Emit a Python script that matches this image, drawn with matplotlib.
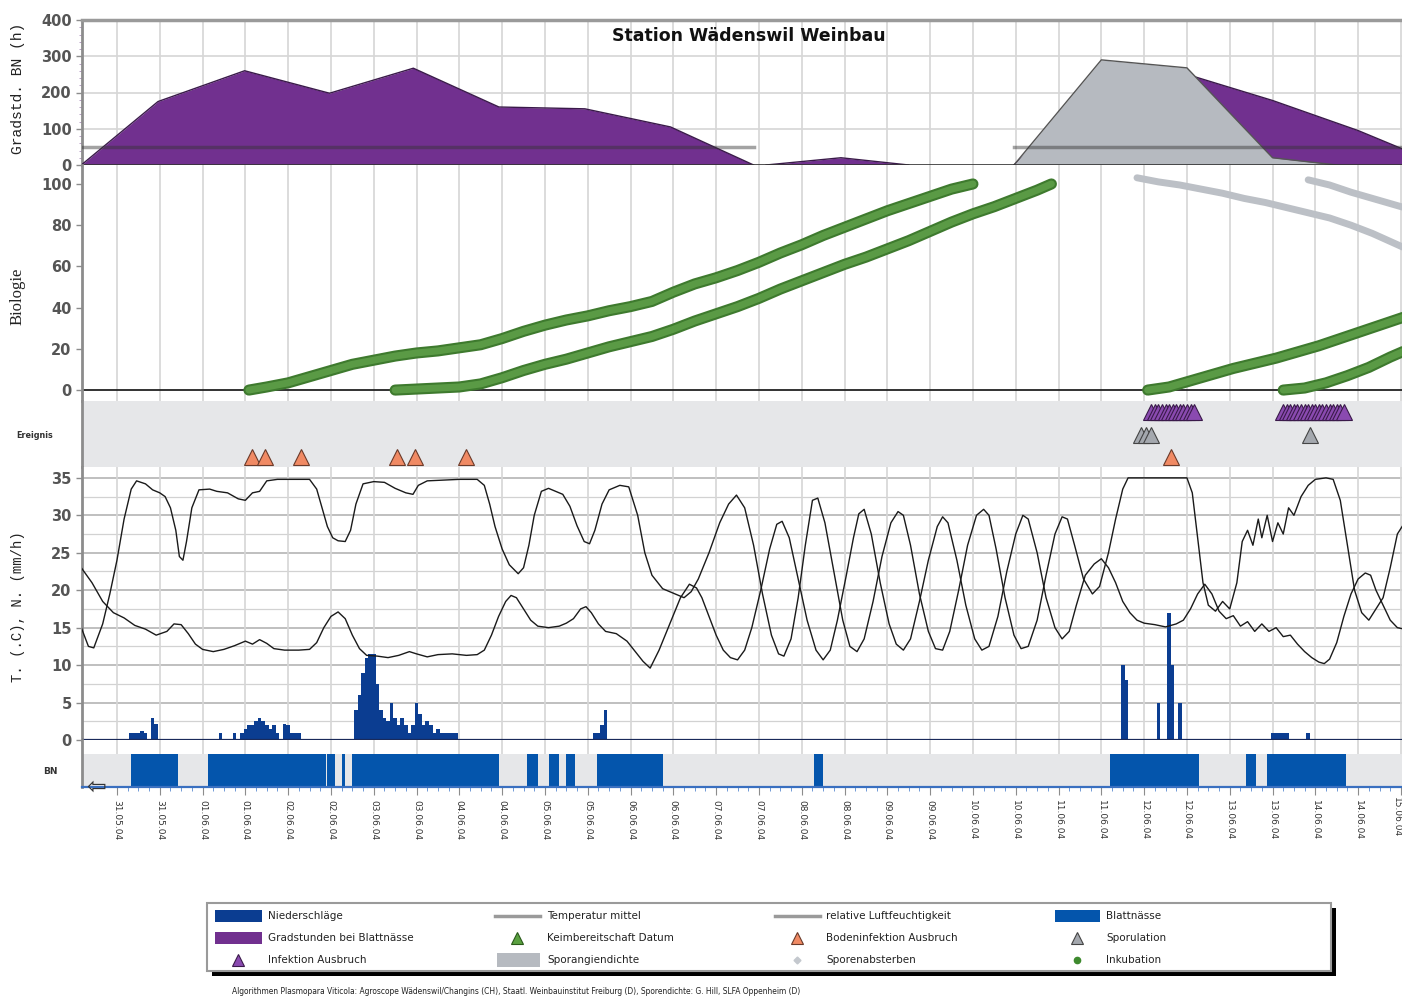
import matplotlib
matplotlib.use("Agg")
import matplotlib.pyplot as plt
from matplotlib.patches import Rectangle
from matplotlib import font_manager

# ---------------- data ----------------
days = ["31.05.04", "01.06.04", "02.06.04", "03.06.04", "04.06.04", "05.06.04",
        "06.06.04", "07.06.04", "08.06.04", "09.06.04", "10.06.04", "11.06.04",
        "12.06.04", "13.06.04", "14.06.04", "15.06.04"]
tick_hours = list(range(0, 361, 12))          # hours since 31.05.04 00:00
tick_labels = [d for d in days[:-1] for _ in range(2)] + [days[-1]]

# Gradstunden bei Blattnaesse (h)
gs1_t = [-10, 11.5, 35.8, 59.6, 83.1, 107.1, 131.2, 155.2, 178.5]
gs1_v = [0, 175, 260, 198, 267, 160, 155, 105, 0]
gs2_t = [182, 203, 222]
gs2_v = [0, 20, 0]
gs3_t = [251.5, 276, 300, 324, 348, 361]
gs3_v = [0, 230, 250, 178, 95, 42]
# Sporangiendichte
spd_t = [251.5, 276, 300, 324, 342]
spd_v = [0, 290, 268, 20, 0]
thr_level = 50

# Biologie: Inkubation (%) and Sporenabsterben
inc1_t = [37, 42, 48, 54, 60, 66, 72, 78, 84, 90, 96, 102, 108, 114, 120, 126, 132, 138,
          144, 150, 156, 162, 168, 174, 180, 186, 192, 198, 204, 210, 216, 222, 228, 234, 240]
inc1_v = [0, 1.5, 3.5, 6.5, 9.5, 12.5, 14.5, 16.5, 18, 19, 20.5, 22, 25, 28.5, 31.5, 34, 36,
          38.5, 40.5, 43, 47.5, 51.5, 54.5, 58, 62, 66.5, 70.5, 75, 79, 83, 87, 90.5, 94, 97.5, 100]
inc2_t = [78, 84, 90, 96, 102, 108, 114, 120, 126, 132, 138, 144, 150, 156, 162, 168, 174,
          180, 186, 192, 198, 204, 210, 216, 222, 228, 234, 240, 246, 252, 258, 262]
inc2_v = [0, 0.5, 1, 1.5, 3, 6, 9.5, 12.5, 15, 18, 21, 23.5, 26, 29.5, 33.5, 37, 40.5,
          44.5, 49, 53, 57, 61, 64.5, 68.5, 72.5, 77, 81.5, 85.5, 89, 93, 97, 100]
inc3_t = [289, 295, 301, 307, 313, 319, 325, 331, 337, 343, 349, 355, 361]
inc3_v = [0, 1.5, 4.5, 7.5, 10.5, 13, 15.5, 18.5, 21.5, 25, 28.5, 32, 35.5]
inc4_t = [327, 333, 339, 345, 351, 357, 361]
inc4_v = [0, 1, 3.5, 7, 11, 16, 19]
die1_t = [286, 292, 298, 304, 310, 316, 322, 328, 334, 340, 346, 352, 361]
die1_v = [103, 101, 99.5, 97.5, 95.5, 93, 91, 88.5, 86, 83.5, 80, 76, 69]
die2_t = [334, 340, 346, 352, 361]
die2_v = [102, 99.5, 96, 93, 88.5]

# Ereignisse (hours)
boden_t = [38, 41.5, 51.5, 78.5, 83.5, 98, 295.5]
sporul_t = [287, 288.5, 290, 334.5]
infekt_t = [290, 291, 292, 293, 294, 295, 296, 297, 298, 299, 300, 301, 302,
            327, 328, 329, 330, 331, 332, 333, 334, 335, 336, 337, 338, 339, 340, 341, 342, 343, 344]

# Wetter: relative Luftfeuchtigkeit (scaled) and Temperatur
hum = [(-10, 15.0), (-8, 12.5), (-6.5, 12.3), (-4, 15.5), (-2, 19.5), (0, 24.0), (2, 29.5),
       (4, 33.5), (5.5, 34.6), (8, 34.2), (10, 33.4), (12, 33.0), (13.5, 32.5), (15, 31.0),
       (16.5, 28.0), (17.5, 24.5), (18.5, 24.0), (19.5, 26.5), (21, 31.0), (23, 33.4),
       (26, 33.5), (28, 33.2), (31, 33.0), (34, 32.2), (36, 32.0), (38, 33.0), (40, 33.2),
       (42, 34.6), (45, 34.8), (54, 34.8), (56, 33.5), (57.5, 31.0), (59, 28.5), (60.5, 27.0),
       (62, 26.6), (64, 26.5), (65.5, 28.0), (67, 31.5), (69, 34.2), (72, 34.5), (75, 34.4),
       (78, 33.6), (81, 33.0), (83, 32.8), (84.5, 34.0), (87, 34.6), (96, 34.8), (101, 34.8),
       (103, 34.0), (104.5, 31.5), (106, 28.5), (108, 25.5), (110, 23.4), (112.5, 22.2),
       (114, 23.0), (115.5, 26.0), (117, 30.0), (119, 33.2), (121, 33.6), (123, 33.2),
       (125, 32.8), (127, 31.2), (129, 28.6), (131, 26.5), (132.5, 26.2), (134, 28.0),
       (136, 31.5), (138, 33.4), (141, 34.0), (143.5, 33.8), (146, 30.0), (148, 25.0),
       (150, 22.0), (153, 20.2), (156, 19.6), (159, 19.0), (161, 19.8), (163, 21.5),
       (166, 25.0), (169, 29.0), (171.5, 31.5), (173.7, 32.7), (176, 31.0), (178.5, 26.0),
       (181, 19.5), (183.5, 14.0), (185.5, 11.5), (187, 11.2), (189, 13.5), (191, 19.0),
       (193, 26.0), (195, 32.0), (196.5, 32.3), (198.5, 29.0), (201, 22.5), (203.5, 16.0),
       (205.5, 12.5), (207.5, 11.8), (209.5, 13.5), (212, 18.5), (214.5, 24.5), (217, 29.0),
       (219, 30.5), (220.5, 30.0), (222.5, 26.0), (225, 19.5), (227.5, 14.5), (229.5, 12.2),
       (231.5, 12.0), (233.5, 14.5), (236, 20.0), (238.5, 26.0), (241, 30.0), (243, 30.8),
       (244.5, 30.0), (246.5, 25.5), (249, 19.0), (251.5, 14.0), (253.5, 12.2), (255.5, 12.5),
       (258, 16.0), (260.5, 22.0), (263, 27.5), (265, 29.8), (266.5, 29.5), (268.5, 26.0),
       (271, 21.5), (273.5, 19.5), (275.5, 20.5), (278, 25.0), (280, 29.5), (282, 33.5),
       (283.5, 35.0), (300, 35.0), (301.5, 33.0), (303, 27.0), (304.5, 21.0), (306, 18.0),
       (308, 17.2), (310, 18.5), (312, 17.5), (314, 21.0), (315.5, 26.5), (317, 28.0),
       (318.5, 26.0), (320, 29.5), (321, 27.0), (322.5, 30.0), (324, 26.5), (325.5, 29.0),
       (327, 27.5), (328.5, 31.0), (330, 30.0), (332, 32.5), (334, 34.0), (336, 34.8),
       (339, 35.0), (341, 34.8), (343, 32.0), (345, 26.0), (347, 20.0), (349, 17.0),
       (351, 16.0), (353, 17.5), (355, 19.0), (357, 23.0), (359, 27.5), (361, 29.0)]
temp = [(-10, 23.0), (-7, 21.0), (-4, 18.5), (-1, 17.0), (2, 16.3), (5, 15.3), (8, 14.8),
        (11, 14.0), (14, 14.5), (16, 15.5), (18, 15.4), (20, 14.2), (22, 12.8), (24, 12.1),
        (27, 11.8), (30, 12.1), (33, 12.6), (36, 13.2), (38, 12.8), (40, 13.4), (42, 12.9),
        (44, 12.2), (47, 12.0), (51, 12.0), (54, 12.1), (56, 13.0), (58, 15.0), (60, 16.5),
        (62, 17.1), (64, 16.2), (66, 14.0), (68, 12.2), (70, 11.3), (73, 11.2), (76, 11.0),
        (79, 11.3), (82, 11.8), (84, 11.5), (87, 11.1), (90, 11.4), (94, 11.5), (98, 11.3),
        (101, 11.4), (103, 12.0), (105, 14.0), (107, 16.5), (109, 18.5), (110.5, 19.3),
        (112, 19.0), (114, 17.5), (116, 16.0), (118, 15.2), (121, 15.0), (124, 15.2),
        (126, 15.6), (128, 16.2), (130, 17.5), (131.5, 17.8), (133, 17.0), (135, 15.5),
        (137, 14.5), (140, 14.2), (143, 13.2), (145, 12.0), (147.5, 10.5), (149.5, 9.6),
        (152, 12.0), (155, 15.5), (158, 19.0), (160.5, 20.8), (162.5, 20.3), (164, 19.0),
        (166, 16.5), (168, 14.0), (170, 12.0), (172, 11.0), (174, 10.7), (176, 12.0),
        (178, 15.0), (180.5, 20.0), (183, 25.5), (185, 28.8), (186.5, 29.2), (188.5, 27.0),
        (191, 21.5), (193.5, 16.0), (196, 12.0), (198, 10.7), (200, 12.0), (202, 16.0),
        (204.5, 22.0), (206.5, 27.0), (208, 30.2), (209.5, 30.8), (211.5, 27.5), (214, 21.0),
        (216.5, 15.5), (218.5, 12.8), (220.5, 12.0), (222.5, 13.5), (225, 18.5), (227.5, 24.0),
        (230, 28.5), (231.5, 29.8), (233, 29.0), (235.5, 24.0), (238, 18.0), (240.5, 13.5),
        (242.5, 12.0), (244.5, 12.5), (247, 16.5), (249.5, 22.5), (252, 27.5), (254, 30.0),
        (255.5, 29.5), (258, 25.0), (260.5, 19.0), (263, 15.0), (265, 13.5), (267, 14.5),
        (269, 18.0), (271.5, 22.0), (274, 23.5), (276, 24.2), (278, 23.0), (280, 21.0),
        (282, 18.5), (284, 17.0), (286, 16.0), (288, 15.6), (291, 15.4), (294, 15.1),
        (297, 15.5), (299, 16.0), (301, 17.5), (303, 19.5), (305, 20.8), (307, 19.5),
        (309, 17.2), (311, 16.2), (313, 16.6), (315, 15.2), (317, 15.8), (319, 14.5),
        (321, 15.5), (323, 14.5), (325, 15.0), (327, 13.8), (329, 14.0), (331, 12.8),
        (333, 11.8), (335, 11.0), (337, 10.4), (338.5, 10.2), (340, 10.8), (342, 13.0),
        (344, 16.5), (346, 19.5), (348, 21.5), (350, 22.3), (351.5, 22.0), (353, 20.0),
        (355, 18.0), (357, 16.0), (359, 15.0), (361, 14.8)]
hum_t, hum_v = zip(*hum)
temp_t, temp_v = zip(*temp)

# Niederschlag (mm/h)
rain_t = [4, 5, 6, 7, 8, 10, 11,
          29, 33, 35, 36, 37, 38, 39, 40, 41, 42, 43, 44, 45, 47, 48, 49, 50, 51,
          67, 68, 69, 70, 71, 72, 73, 74, 75, 76, 77, 78, 79, 80, 81,
          82, 83, 84, 85, 86, 87, 88, 89, 90, 91, 92, 93, 94, 95,
          134, 135, 136, 137, 282, 283, 292, 295, 296, 298,
          324, 325, 326, 327, 328, 334]
rain_v = [1, 1, 1, 1.2, 1, 3, 2.2,
          1, 1, 1, 1.5, 2, 2, 2.5, 3, 2.5, 2, 1.5, 2, 1, 2.2, 2, 1, 1, 1,
          4, 6, 9, 11, 11.5, 11.5, 7.5, 4, 3, 2.5, 5, 3, 2, 3, 2,
          1, 2, 5, 3.5, 2, 2.5, 2, 1, 1.5, 1, 1, 1, 1, 1,
          1, 1, 2, 4, 10, 8, 5, 17, 10, 5,
          1, 1, 1, 1, 1, 1]

# Blattnaesse intervals (hours)
bn_start = [4, 25.5, 59, 63, 66, 115, 121, 126, 134.5, 195.5, 278.5, 316.5, 322.5]
bn_end = [17, 58.5, 61, 64, 107, 118, 124, 128.5, 153, 198, 303.5, 319.5, 344.5]

# ---------------- style ----------------
PURPLE = "#71308f"
NAVY = "#0b3d91"
BLUE = "#0455ac"
SPGRAY = "#b6bac0"
EVBG = "#e6e7e9"
ORANGE = "#f08a64"
GRID = "#d6d6d6"

names = {f.name for f in font_manager.fontManager.ttflist}
title_family = "Liberation Sans Narrow" if "Liberation Sans Narrow" in names else "DejaVu Sans"
title_size = 14 if title_family == "Liberation Sans Narrow" else 12.5

W, H = 1402, 998
fig = plt.figure(figsize=(W / 100, H / 100), dpi=100)
XMIN, XMAX = -9.8, 360.3


def add_ax(top, bottom):
    return fig.add_axes([82 / W, 1 - bottom / H, (W - 82) / W, (bottom - top) / H])


def base(ax, grid=True):
    ax.set_xlim(XMIN, XMAX)
    for s in ("top", "right", "bottom"):
        ax.spines[s].set_visible(False)
    ax.spines["left"].set_color("#8c8c8c")
    ax.spines["left"].set_linewidth(2)
    ax.set_xticks(tick_hours)
    ax.tick_params(axis="x", bottom=False, labelbottom=False)
    ax.tick_params(axis="y", colors="#8c8c8c", labelcolor="#555555", labelsize=10.5, length=4, width=1)
    for lab in ax.get_yticklabels():
        lab.set_fontweight("bold")
    if grid:
        ax.grid(axis="x", color=GRID, lw=1.2, zorder=0)
    ax.set_axisbelow(True)


ax_gs = add_ax(20, 165)
ax_bio = add_ax(165, 401)
ax_ev = add_ax(401, 467)
ax_w = add_ax(467, 740)
ax_bn = add_ax(740, 787)

# ---- top panel: Gradstunden ----
ax_gs.set_ylim(0, 400)
ax_gs.set_yticks([0, 100, 200, 300, 400])
ax_gs.set_yticks(range(0, 401, 20), minor=True)
ax_gs.tick_params(axis="y", which="minor", length=2, colors="#b090c0")
base(ax_gs)
ax_gs.spines["top"].set_visible(True)
ax_gs.spines["top"].set_color("#9a9a9a")
ax_gs.spines["top"].set_linewidth(2.5)
for yv in (100, 200, 300):
    ax_gs.axhline(yv, color=GRID, lw=1.2, zorder=0)
for t_, v_ in ((gs1_t, gs1_v), (gs2_t, gs2_v), (gs3_t, gs3_v)):
    ax_gs.fill_between(t_, v_, 0, color=PURPLE, zorder=2, lw=0)
    ax_gs.plot(t_, v_, color="#3a1a4a", lw=1, zorder=3)
ax_gs.fill_between(spd_t, spd_v, 0, color=SPGRAY, zorder=4, lw=0)
ax_gs.plot(spd_t, spd_v, color="#555555", lw=1, zorder=5)
ax_gs.plot([gs1_t[0], gs1_t[-1]], [thr_level, thr_level], color="#333333", alpha=0.45, lw=2.5, zorder=6)
ax_gs.plot([gs3_t[0], XMAX], [thr_level, thr_level], color="#333333", alpha=0.45, lw=2.5, zorder=6)
ax_gs.axhline(0, color="#333333", lw=1.2, zorder=7)
ax_gs.text(0.505, 0.89, "Station Wädenswil Weinbau", transform=ax_gs.transAxes,
           ha="center", va="center", fontsize=title_size, fontweight="bold",
           family=title_family, color="#111111", zorder=8)

# ---- biology panel ----
ax_bio.set_ylim(-5.3, 109.2)
ax_bio.set_yticks([0, 20, 40, 60, 80, 100])
base(ax_bio)
ax_bio.axhline(0, color="#222222", lw=1.3, zorder=2)
for t_, v_ in ((die1_t, die1_v), (die2_t, die2_v)):
    ax_bio.plot(t_, v_, color="#bcc0c6", lw=5, solid_capstyle="round", zorder=3)
for t_, v_ in ((inc1_t, inc1_v), (inc2_t, inc2_v), (inc3_t, inc3_v), (inc4_t, inc4_v)):
    ax_bio.plot(t_, v_, color="#3e7a2e", lw=8, solid_capstyle="round", zorder=4)
    ax_bio.plot(t_, v_, color="#5a9a45", lw=5, solid_capstyle="round", zorder=5)

# ---- Ereignis panel ----
ax_ev.set_facecolor(EVBG)
ax_ev.set_ylim(0, 3)
base(ax_ev, grid=False)
ax_ev.set_yticks([])
ax_ev.plot(infekt_t, [2.5] * len(infekt_t), ls="none", marker="^", ms=11,
           mfc="#8a4ab0", mec="#3a1a4a", mew=0.8, zorder=3)
ax_ev.plot(sporul_t, [1.45] * len(sporul_t), ls="none", marker="^", ms=11,
           mfc="#a4a8ae", mec="#444444", mew=0.8, zorder=3)
ax_ev.plot(boden_t, [0.45] * len(boden_t), ls="none", marker="^", ms=11,
           mfc=ORANGE, mec="#6a3a2a", mew=0.8, zorder=3)

# ---- weather panel ----
ax_w.set_ylim(0, 36.45)
ax_w.set_yticks(range(0, 36, 5))
base(ax_w)
for yv in range(0, 36, 5):
    ax_w.axhline(yv, color="#b4b4b4", lw=1.2, zorder=0)
for yv in [2.5 + 5 * k for k in range(7)]:
    ax_w.axhline(yv, color="#d2d2d2", lw=0.9, zorder=0)
ax_w.bar(rain_t, rain_v, width=1.0, color=NAVY, zorder=2, lw=0)
ax_w.plot(hum_t, hum_v, color="#1a1a1a", lw=1.0, zorder=3)
ax_w.plot(temp_t, temp_v, color="#1a1a1a", lw=1.0, zorder=3)
ax_w.axhline(0, color="#1a2a5a", lw=1.6, zorder=4)

# ---- BN panel ----
ax_bn.set_ylim(0, 1)
base(ax_bn)
ax_bn.set_yticks([])
ax_bn.add_patch(Rectangle((XMIN, 0), XMAX - XMIN, 0.70, facecolor=EVBG, lw=0, zorder=1))
ax_bn.bar(bn_start, 0.70, width=[e - s for s, e in zip(bn_start, bn_end)], align="edge",
          color=BLUE, lw=0, zorder=2)
ax_bn.spines["bottom"].set_visible(True)
ax_bn.spines["bottom"].set_color("#3a70c0")
ax_bn.spines["bottom"].set_linewidth(1.6)
ax_bn.set_xticks(tick_hours)
# last date label is drawn separately so it stays inside the figure edge
ax_bn.set_xticklabels(tick_labels[:-1] + [""], rotation=-90, fontsize=6.5, color="#333333")
ax_bn.set_xticks(range(0, 361, 3), minor=True)
ax_bn.tick_params(axis="x", which="major", bottom=True, labelbottom=True, length=6,
                  color="#8c8c8c", pad=3)
ax_bn.tick_params(axis="x", which="minor", bottom=True, length=3, color="#5a8ad0")

# ---------------- overlay: labels & legend ----------------
ov = fig.add_axes([0, 0, 1, 1], zorder=10)
ov.set_xlim(0, W)
ov.set_ylim(H, 0)
ov.axis("off")
ov.patch.set_alpha(0)

ov.text(1401, 797, tick_labels[-1], rotation=-90, ha="right", va="top",
        fontsize=6.5, color="#333333")

ov.text(18, 88, "Gradstd. BN (h)", rotation=90, ha="center", va="center",
        family="Liberation Mono", fontsize=10.5, color="#222222")
ov.text(18, 296, "Biologie", rotation=90, ha="center", va="center",
        family="Liberation Serif", fontsize=12, color="#222222")
ov.text(18, 607, "T. (.C), N. (mm/h)", rotation=90, ha="center", va="center",
        family="Liberation Mono", fontsize=10, color="#222222")
ov.text(35, 435, "Ereignis", ha="center", va="center", fontsize=6.5, fontweight="bold",
        color="#333333", fontstretch="condensed")
ov.text(50, 771, "BN", ha="center", va="center", fontsize=6.5, fontweight="bold", color="#333333")
ov.text(96, 787, "\u21e6", ha="center", va="center", fontsize=17, color="#333333")

# legend box with shadow
ov.add_patch(Rectangle((212, 908), 1124, 68, facecolor="black", lw=0))
ov.add_patch(Rectangle((207, 903), 1124, 68, facecolor="white", edgecolor="#9a9a9a", lw=1.5))

rows = [916, 938, 960]
fs = 7.5
# column 1
ov.add_patch(Rectangle((215, rows[0] - 6), 47, 12, facecolor=NAVY, lw=0))
ov.add_patch(Rectangle((215, rows[1] - 6), 47, 12, facecolor=PURPLE, lw=0))
ov.plot([238], [rows[2]], marker="^", ms=8, mfc="#8a4ab0", mec="#3a1a4a", mew=0.8)
for r, t in zip(rows, ["Niederschläge", "Gradstunden bei Blattnässe", "Infektion Ausbruch"]):
    ov.text(268, r, t, va="center", fontsize=fs, color="#222222")
# column 2
ov.plot([495, 540], [rows[0], rows[0]], color="#9a9a9a", lw=2.5)
ov.plot([517], [rows[1]], marker="^", ms=8, mfc="#5aa040", mec="#2a5a1a", mew=0.8)
ov.add_patch(Rectangle((497, rows[2] - 7), 43, 14, facecolor=SPGRAY, lw=0))
for r, t in zip(rows, ["Temperatur mittel", "Keimbereitschaft Datum", "Sporangiendichte"]):
    ov.text(547, r, t, va="center", fontsize=fs, color="#222222")
# column 3
ov.plot([775, 820], [rows[0], rows[0]], color="#9a9a9a", lw=2.5)
ov.plot([797], [rows[1]], marker="^", ms=8, mfc=ORANGE, mec="#6a3a2a", mew=0.8)
ov.plot([797], [rows[2]], marker="D", ms=3.5, mfc="#c4c8ce", mec="#c4c8ce")
for r, t in zip(rows, ["relative Luftfeuchtigkeit", "Bodeninfektion Ausbruch", "Sporenabsterben"]):
    ov.text(826, r, t, va="center", fontsize=fs, color="#222222")
# column 4
ov.add_patch(Rectangle((1055, rows[0] - 6), 45, 12, facecolor=BLUE, lw=0))
ov.plot([1077], [rows[1]], marker="^", ms=8, mfc="#a4a8ae", mec="#444444", mew=0.8)
ov.plot([1077], [rows[2]], marker="o", ms=4.5, mfc="#3e8a2e", mec="#3e8a2e")
for r, t in zip(rows, ["Blattnässe", "Sporulation", "Inkubation"]):
    ov.text(1106, r, t, va="center", fontsize=fs, color="#222222")

ov.text(232, 992, "Algorithmen Plasmopara Viticola: Agroscope Wädenswil/Changins (CH), "
        "Staatl. Weinbauinstitut Freiburg (D), Sporendichte: G. Hill, SLFA Oppenheim (D)",
        va="center", ha="left", fontsize=6, color="#222222", fontstretch="condensed")

fig.savefig("out.png", dpi=100)
